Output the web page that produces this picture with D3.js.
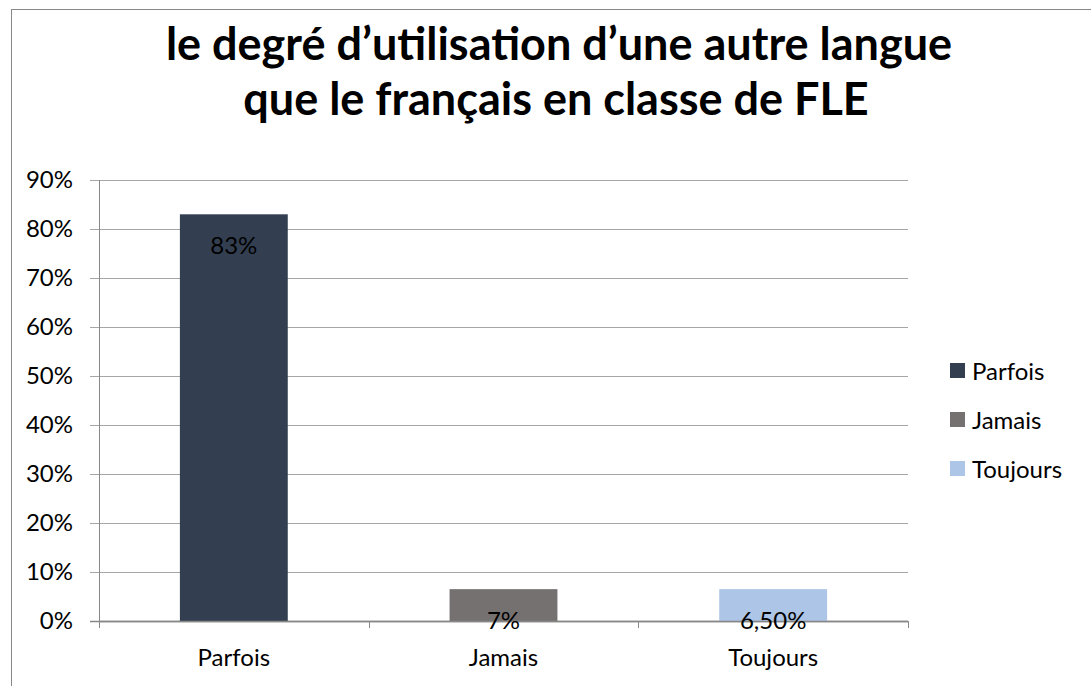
<!DOCTYPE html>
<meta charset="utf-8">
<script src="https://d3js.org/d3.v7.min.js"></script>
<style>
  body { margin: 0; background: #fff; }
  text { font-family: Lato, "Noto Sans", sans-serif; }
</style>
<div id="chart"></div>
<script>

// data
var categories = ["Parfois", "Jamais", "Toujours"];
var values = [0.83, 0.065, 0.065];
var valueLabels = ["83%", "7%", "6,50%"];
var colors = ["#333f50", "#767171", "#adc5e6"];
var yTicks = [0, 0.1, 0.2, 0.3, 0.4, 0.5, 0.6, 0.7, 0.8, 0.9];
var titleLines = ["le degré d\u2019utilisation d\u2019une autre langue", "que le français en classe de FLE"];

var W = 1091, H = 686;
var margin = {top: 180, right: 183, bottom: 65, left: 99},
    width = W - margin.left - margin.right,
    height = H - margin.top - margin.bottom;

var svg = d3.select("#chart")
  .append("svg")
    .attr("width", W)
    .attr("height", H);

// chart frame
svg.append("rect")
    .attr("x", 11.5).attr("y", 9.5)
    .attr("width", W + 20).attr("height", H + 20)
    .style("fill", "none")
    .style("stroke", "#888")
    .style("stroke-width", 1);

// title
svg.append("text")
    .attr("text-anchor", "middle")
    .style("font-size", "45px")
    .style("font-weight", "bold")
  .selectAll("tspan")
  .data(titleLines)
  .enter()
  .append("tspan")
    .attr("x", function(d, i) { return i === 0 ? 559 : 556; })
    .attr("y", function(d, i) { return 60 + i * 55; })
    .text(function(d) { return d; });

var g = svg.append("g")
    .attr("transform", "translate(" + margin.left + "," + margin.top + ")");

var x = d3.scaleBand()
    .domain(categories)
    .range([0, width])
    .paddingInner(0.6)
    .paddingOuter(0.3);

var y = d3.scaleLinear()
    .domain([0, 0.9])
    .range([height, 0]);

// gridlines
g.selectAll(".grid")
  .data(yTicks)
  .enter()
  .append("line")
    .attr("x1", -9)
    .attr("x2", width)
    .attr("y1", function(d) { return Math.round(y(d)) + 0.5; })
    .attr("y2", function(d) { return Math.round(y(d)) + 0.5; })
    .style("stroke", function(d) { return d === 0 ? "#888" : "#a6a6a6"; })
    .style("stroke-width", function(d) { return d === 0 ? 1.5 : 1; });

// y axis line
g.append("line")
    .attr("x1", 0.5).attr("x2", 0.5)
    .attr("y1", 0).attr("y2", height + 7)
    .style("stroke", "#888");

// y labels
var yAxis = g.append("g")
    .call(d3.axisLeft(y).tickValues(yTicks).tickFormat(d3.format(".0%")).tickSize(0).tickPadding(26));
yAxis.select(".domain").remove();
yAxis.selectAll("text")
    .style("font-size", "24px")
    .style("font-family", "Lato, 'Noto Sans', sans-serif")
    .style("fill", "#000");

// category boundary ticks
var bounds = d3.range(categories.length + 1).map(function(i) { return i * width / categories.length; });
g.selectAll(".ctick")
  .data(bounds)
  .enter()
  .append("line")
    .attr("x1", function(d) { return Math.round(d) + 0.5; })
    .attr("x2", function(d) { return Math.round(d) + 0.5; })
    .attr("y1", height).attr("y2", height + 7)
    .style("stroke", "#888");

// bars
g.selectAll(".bar")
  .data(values)
  .enter()
  .append("rect")
    .attr("x", function(d, i) { return x(categories[i]); })
    .attr("y", function(d) { return y(d); })
    .attr("width", x.bandwidth())
    .attr("height", function(d) { return height - y(d); })
    .style("fill", function(d, i) { return colors[i]; });

// redraw baseline over bars
g.append("line")
    .attr("x1", 0).attr("x2", width)
    .attr("y1", height + 0.5).attr("y2", height + 0.5)
    .style("stroke", "#888")
    .style("stroke-width", 1.5);

// value labels
g.selectAll(".vlabel")
  .data(values)
  .enter()
  .append("text")
    .attr("x", function(d, i) { return x(categories[i]) + x.bandwidth() / 2; })
    .attr("y", function(d) { return y(d) + 40; })
    .attr("text-anchor", "middle")
    .style("font-size", "24px")
    .style("fill", "#000")
    .text(function(d, i) { return valueLabels[i]; });

// category labels
g.selectAll(".clabel")
  .data(categories)
  .enter()
  .append("text")
    .attr("x", function(d) { return x(d) + x.bandwidth() / 2; })
    .attr("y", height + 45)
    .attr("text-anchor", "middle")
    .style("font-size", "24px")
    .style("fill", "#000")
    .text(function(d) { return d; });

// legend
var legend = svg.append("g")
  .selectAll("g")
  .data(categories)
  .enter()
  .append("g")
    .attr("transform", function(d, i) { return "translate(950," + (363 + i * 49) + ")"; });
legend.append("rect")
    .attr("width", 15).attr("height", 15)
    .style("fill", function(d, i) { return colors[i]; });
legend.append("text")
    .attr("x", 22).attr("y", 7.5)
    .attr("dominant-baseline", "central")
    .style("font-size", "24px")
    .text(function(d) { return d; });
</script>
